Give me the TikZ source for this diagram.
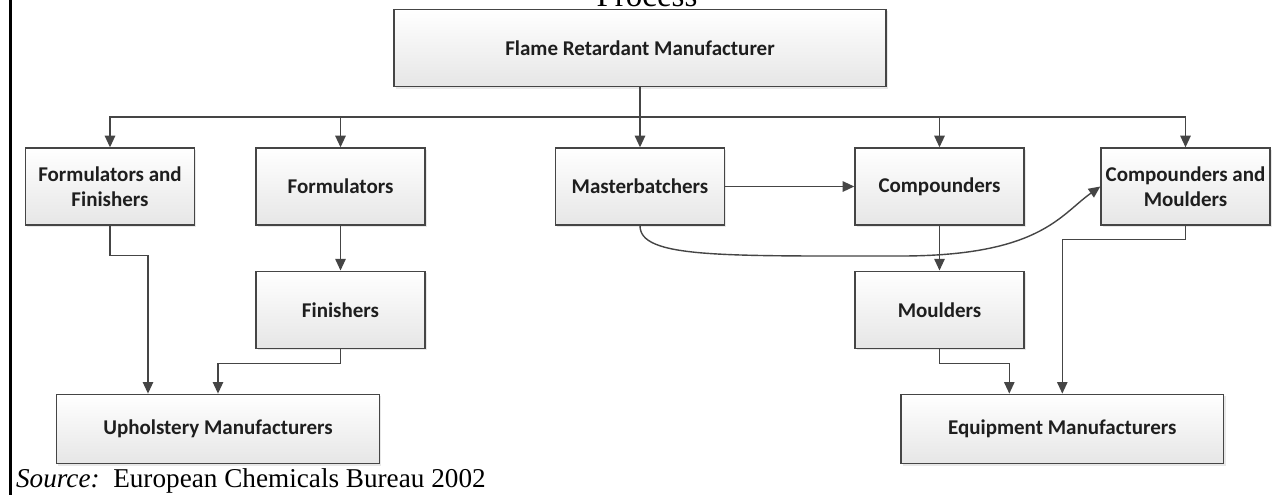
\documentclass[tikz,border=0pt]{standalone}
\usepackage{fontspec}
\setmainfont{Liberation Serif}
\newfontfamily\boxfont{Carlito}
\usetikzlibrary{arrows.meta,shadows}
\definecolor{linec}{HTML}{454545}
\definecolor{boxbot}{HTML}{E6E6E6}
\definecolor{txt}{HTML}{1E1E1E}
\begin{document}
\begin{tikzpicture}[x=0.5pt,y=-0.5pt,
  box/.style={draw=linec, line width=0.7pt, top color=white, bottom color=boxbot,
    font=\boxfont\bfseries\fontsize{10.5}{12.5}\selectfont, text=txt, align=center,
    inner sep=0pt, minimum width=84.5pt, minimum height=38.5pt,
    drop shadow={shadow xshift=0.9pt, shadow yshift=-0.9pt, opacity=0.18, fill=gray}},
  wide/.style={minimum width=161.4pt, minimum height=34.7pt},
  conn/.style={draw=linec, line width=0.7pt},
  arr/.style={conn, -{Triangle[length=5.8pt,width=5.2pt]}}]
\useasboundingbox (0,0) rectangle (1274,495);
\fill[white] (0,0) rectangle (1274,495);
\draw[line width=1.4pt, black] (10.5,0) -- (10.5,495);
% title (cut off at top, as in the reference)
\node[anchor=base, font=\fontsize{16.5}{18}\selectfont, inner sep=0pt] (title) at (647,6) {Process};
% boxes
\node[box, minimum width=246pt, minimum height=38.7pt] (fr) at (640,48) {Flame Retardant Manufacturer};
\node[box] (ff) at (110,186.5) {Formulators and\\Finishers};
\node[box] (fo) at (340.5,186.5) {Formulators};
\node[box] (mb) at (640,186.5) {Masterbatchers};
\node[box] (co) at (939.5,186.5) {Compounders};
\node[box] (cm) at (1185.5,186.5) {Compounders and\\Moulders};
\node[box] (fi) at (340.5,309.7) {Finishers};
\node[box] (mo) at (939.5,309.7) {Moulders};
\node[box, wide] (up) at (218,429) {Upholstery Manufacturers};
\node[box, wide] (eq) at (1062.3,429) {Equipment Manufacturers};
% bus
\coordinate (bus) at (640,117);
\draw[arr] (fr.south) -- (mb.north);
\draw[arr] (bus) -| (ff.north);
\draw[arr] (bus) -| (fo.north);
\draw[arr] (bus) -| (co.north);
\draw[arr] (bus) -| (cm.north);
% horizontal
\draw[arr] (mb.east) -- (co.west);
% curved
\draw[arr] (mb.south) .. controls (640,258) and (720,256) .. (900,256)
  .. controls (1040,256) and (1060,215) .. (cm.west);
% verticals
\draw[arr] (fo.south) -- (fi.north);
\draw[arr] (co.south) -- (mo.north);
\coordinate (ffk) at (148,255.3);
\draw[arr] (ff.south) |- (ffk) -- (ffk |- up.north);
\coordinate (fik) at (218,363.7);
\draw[arr] (fi.south) |- (fik) -- (up.north);
\coordinate (mok) at (1009.3,363.7);
\draw[arr] (mo.south) |- (mok) -- (mok |- eq.north);
\coordinate (cmk) at (1062.3,239.3);
\draw[arr] (cm.south) |- (cmk) -- (eq.north);
% source
\node[anchor=base west, inner sep=0pt, font=\fontsize{13.6}{15}\selectfont] (src) at (15.7,487.7) {\textit{Source:}\ \ European Chemicals Bureau 2002};
\end{tikzpicture}
\end{document}
